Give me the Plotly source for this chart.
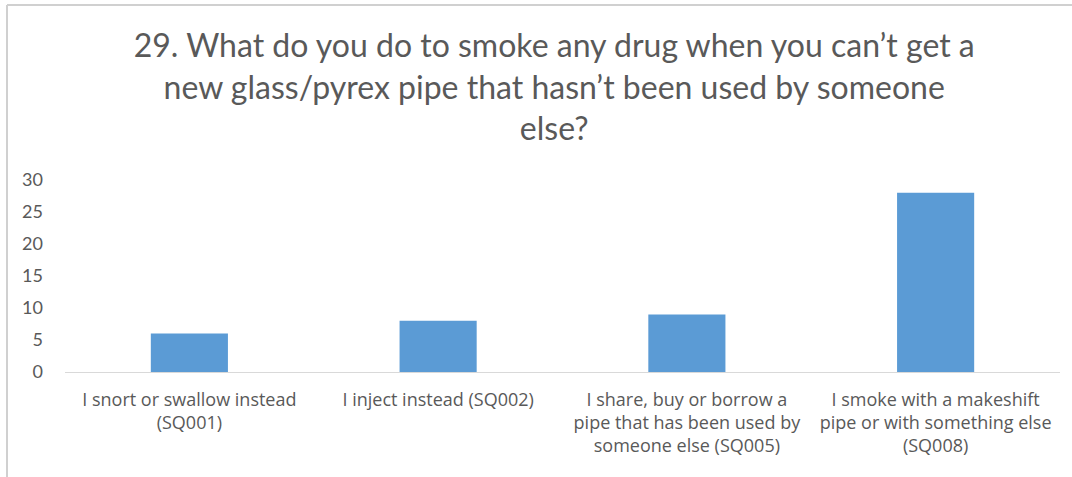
import plotly.graph_objects as go

# Survey question 29: responses per option
categories = [
    "I snort or swallow instead<br>(SQ001)",
    "I inject instead (SQ002)",
    "I share, buy or borrow a<br>pipe that has been used by<br>someone else (SQ005)",
    "I smoke with a makeshift<br>pipe or with something else<br>(SQ008)",
]
counts = [6, 8, 9, 28]
y_ticks = [0, 5, 10, 15, 20, 25, 30]

title_text = ("29. What do you do to smoke any drug when you can\u2019t get a<br>"
              "new glass/pyrex pipe that hasn\u2019t been used by someone<br>"
              "else?")

W, H = 1072, 477
ML, MR, MT, MB = 65, 12, 179.5, 105
pw, ph = W - ML - MR, H - MT - MB

def px_to_paper_x(px):
    return (px - ML) / pw

def px_to_paper_y(py):
    return (H - MB - py) / ph

text_grey = "#595959"

fig = go.Figure(
    go.Bar(
        x=categories,
        y=counts,
        marker=dict(color="#5B9BD5", line=dict(width=0)),
        width=0.31,
    )
)

fig.update_layout(
    width=W,
    height=H,
    margin=dict(l=ML, r=MR, t=MT, b=MB),
    paper_bgcolor="white",
    plot_bgcolor="white",
    showlegend=False,
    font=dict(family="Lato, Carlito, Calibri, sans-serif", color=text_grey, size=16),
    title=dict(
        text=title_text,
        x=0.517,
        xanchor="center",
        y=1 - 57 / H,
        yanchor="top",
        yref="container",
        font=dict(family="Lato, Calibri, sans-serif", size=32, color=text_grey),
    ),
    xaxis=dict(
        showline=True,
        linecolor="#D9D9D9",
        linewidth=1,
        ticks="",
        showgrid=False,
        tickfont=dict(family="Open Sans, sans-serif", size=18, color=text_grey),
        ticklabelstandoff=11,
    ),
    yaxis=dict(
        range=[0, 30],
        tickvals=y_ticks,
        showgrid=False,
        zeroline=False,
        showline=False,
        ticks="",
        tickfont=dict(size=18, color=text_grey),
        ticklabelstandoff=21,
    ),
    shapes=[
        # outer chart frame: top and left edges
        dict(type="line", xref="paper", yref="paper",
             x0=px_to_paper_x(7), x1=px_to_paper_x(W + 5),
             y0=px_to_paper_y(4), y1=px_to_paper_y(4),
             line=dict(color="#D0D0D0", width=2)),
        dict(type="line", xref="paper", yref="paper",
             x0=px_to_paper_x(7), x1=px_to_paper_x(7),
             y0=px_to_paper_y(4), y1=px_to_paper_y(H + 5),
             line=dict(color="#D0D0D0", width=2)),
    ],
)

fig.write_html("out.html")
